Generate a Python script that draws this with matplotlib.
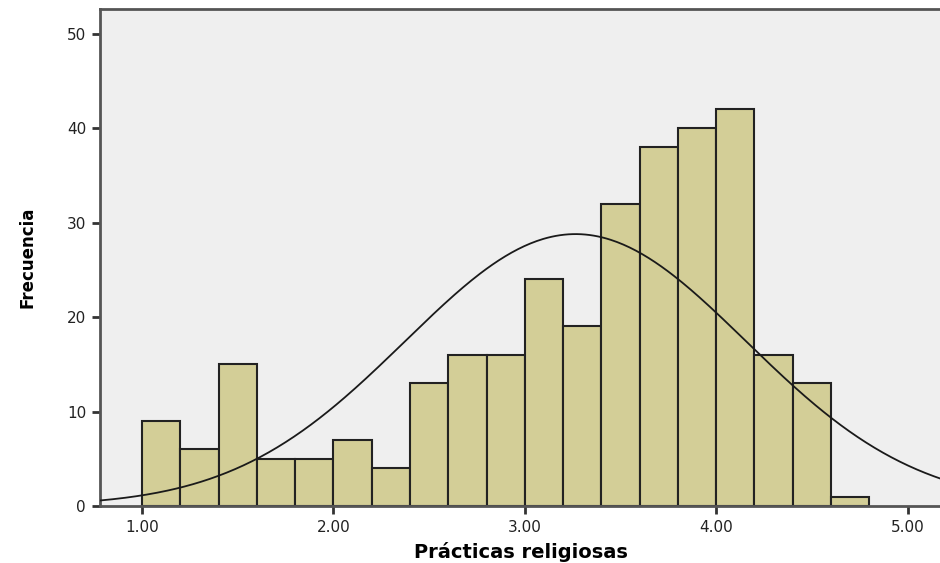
import numpy as np
import matplotlib
matplotlib.use('Agg')
import matplotlib.pyplot as plt

# histogram bins (lower edges) and counts
bin_edges = [1.0, 1.2, 1.4, 1.6, 1.8, 2.0, 2.2, 2.4, 2.6, 2.8, 3.0,
             3.2, 3.4, 3.6, 3.8, 4.0, 4.2, 4.4, 4.6, 4.8]
counts = [9, 6, 15, 5, 5, 7, 4, 13, 16, 16, 24, 19, 32, 38, 40, 42, 16, 13, 1]

# normal curve parameters
mean = 3.265
sd = 0.89
n_total = sum(counts)
bin_width = 0.2

x_ticks = [1.0, 2.0, 3.0, 4.0, 5.0]
x_ticklabels = ['1.00', '2.00', '3.00', '4.00', '5.00']
y_ticks = [0, 10, 20, 30, 40, 50]

BAR = '#D3CE97'
BG = '#EFEFEF'
SPINE = '#555555'

fig = plt.figure(figsize=(9.4, 5.63), dpi=100)
ax = fig.add_axes([100 / 940, 57 / 563, 842 / 940, 497 / 563])
ax.set_facecolor(BG)

ax.bar(bin_edges[:-1], counts, width=bin_width, align='edge',
       color=BAR, edgecolor='#222222', linewidth=1.5, zorder=2)

xs = np.linspace(0.78, 5.18, 400)
ys = n_total * bin_width * np.exp(-0.5 * ((xs - mean) / sd) ** 2) / (sd * np.sqrt(2 * np.pi))
ax.plot(xs, ys, color='#1a1a1a', linewidth=1.3, zorder=3)

ax.set_xlim(0.78, 5.18)
ax.set_ylim(0, 52.6)
ax.set_xticks(x_ticks)
ax.set_xticklabels(x_ticklabels)
ax.set_yticks(y_ticks)

for side in ['left', 'bottom', 'top']:
    ax.spines[side].set_color(SPINE)
    ax.spines[side].set_linewidth(2)
ax.spines['right'].set_visible(False)

ax.tick_params(axis='both', direction='out', length=6, width=2,
               color='#333333', labelsize=11, labelcolor='#222222', pad=4)

ax.set_xlabel('Prácticas religiosas', fontsize=14, fontweight='bold',
              labelpad=5)
ax.set_ylabel('Frecuencia', fontsize=12, fontweight='bold', labelpad=22)

plt.savefig('out.png', dpi=100, facecolor='white')
plt.close()
